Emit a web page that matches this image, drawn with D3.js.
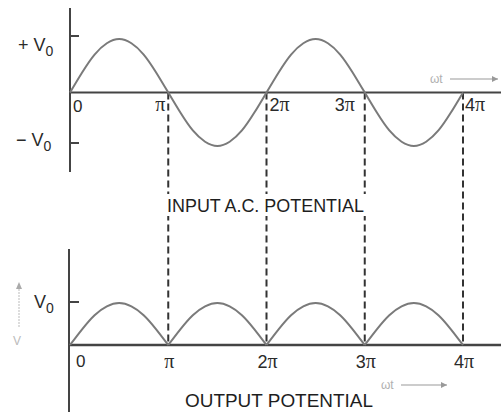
<!DOCTYPE html>
<html>
<head>
<meta charset="utf-8">
<script src="https://d3js.org/d3.v7.min.js"></script>
<style>
    body { margin: 0; background: #fff; }
    text { font-family: "Liberation Sans", Arial, sans-serif; fill: #2a2a2a; }
    .pi { font-family: "Liberation Serif", "DejaVu Serif", serif; }
</style>
</head>
<body>
<script>

    // phase in units of pi, read every pi/8 from the picture
    var phase = [0, 0.125, 0.25, 0.375, 0.5, 0.625, 0.75, 0.875,
        1, 1.125, 1.25, 1.375, 1.5, 1.625, 1.75, 1.875,
        2, 2.125, 2.25, 2.375, 2.5, 2.625, 2.75, 2.875,
        3, 3.125, 3.25, 3.375, 3.5, 3.625, 3.75, 3.875, 4];

    // input a.c. potential (in V0)
    var inputV = [0, 0.38, 0.71, 0.92, 1, 0.92, 0.71, 0.38,
        0, -0.38, -0.71, -0.92, -1, -0.92, -0.71, -0.38,
        0, 0.38, 0.71, 0.92, 1, 0.92, 0.71, 0.38,
        0, -0.38, -0.71, -0.92, -1, -0.92, -0.71, -0.38, 0];

    // output (rectified) potential (in V0)
    var outputV = [0, 0.38, 0.71, 0.92, 1, 0.92, 0.71, 0.38,
        0, 0.38, 0.71, 0.92, 1, 0.92, 0.71, 0.38,
        0, 0.38, 0.71, 0.92, 1, 0.92, 0.71, 0.38,
        0, 0.38, 0.71, 0.92, 1, 0.92, 0.71, 0.38, 0];

    var piTicks = [1, 2, 3, 4];
    var piLabels = ["", "2", "3", "4"];

    var width = 501, height = 412;

    var svg = d3.select("body").append("svg")
        .attr("width", width)
        .attr("height", height);

    var x = d3.scaleLinear().domain([0, 4]).range([70, 463]);
    var yTop = d3.scaleLinear().domain([-1, 1]).range([146, 39]);
    var yBot = d3.scaleLinear().domain([0, 1]).range([345, 303]);

    var axisColor = "#444", curveColor = "#7a7a7a";

    // ==== dashed drop lines ==== //
    svg.selectAll(".drop")
        .data(piTicks)
        .enter().append("line")
        .attr("class", "drop")
        .attr("x1", function (d) { return x(d); })
        .attr("x2", function (d) { return x(d); })
        .attr("y1", yTop(0))
        .attr("y2", yBot(0))
        .style("stroke", "#333")
        .style("stroke-width", 2)
        .style("stroke-dasharray", "7,4");

    // ==== TOP: input ==== //
    svg.append("line")
        .attr("x1", x(0)).attr("x2", width)
        .attr("y1", yTop(0)).attr("y2", yTop(0))
        .style("stroke", axisColor).style("stroke-width", 2);

    svg.append("line")
        .attr("x1", x(0)).attr("x2", x(0))
        .attr("y1", 8).attr("y2", 172)
        .style("stroke", axisColor).style("stroke-width", 2);

    svg.selectAll(".tickTop")
        .data([1, -1])
        .enter().append("line")
        .attr("x1", x(0)).attr("x2", x(0) + 9)
        .attr("y1", function (d) { return yTop(d) - 3; })
        .attr("y2", function (d) { return yTop(d) - 3; })
        .style("stroke", axisColor).style("stroke-width", 2);

    var lineTop = d3.line()
        .x(function (d, i) { return x(phase[i]); })
        .y(function (d) { return yTop(d); })
        .curve(d3.curveNatural);

    svg.append("path")
        .datum(inputV)
        .attr("d", lineTop)
        .style("fill", "none")
        .style("stroke", curveColor)
        .style("stroke-width", 2);

    // ==== BOTTOM: output ==== //
    svg.append("line")
        .attr("x1", x(0) - 1).attr("x2", width)
        .attr("y1", yBot(0)).attr("y2", yBot(0))
        .style("stroke", axisColor).style("stroke-width", 2.5);

    svg.append("line")
        .attr("x1", x(0) - 1).attr("x2", x(0) - 1)
        .attr("y1", 249).attr("y2", height)
        .style("stroke", axisColor).style("stroke-width", 2);

    svg.append("line")
        .attr("x1", x(0) - 1).attr("x2", x(0) + 9)
        .attr("y1", yBot(1) - 1).attr("y2", yBot(1) - 1)
        .style("stroke", axisColor).style("stroke-width", 2);

    var lineBot = d3.line()
        .x(function (d) { return x(d[0]); })
        .y(function (d) { return yBot(d[1]); })
        .curve(d3.curveNatural);

    var humps = d3.range(4).map(function (k) {
        return d3.range(8 * k, 8 * k + 9).map(function (i) { return [phase[i], outputV[i]]; });
    });

    svg.selectAll(".hump")
        .data(humps)
        .enter().append("path")
        .attr("class", "hump")
        .attr("d", lineBot)
        .style("fill", "none")
        .style("stroke", curveColor)
        .style("stroke-width", 2);

    // ==== labels ==== //
    function vLabel(tx, ty, prefix) {
        var t = svg.append("text").attr("x", tx).attr("y", ty).style("font-size", "18px");
        t.append("tspan").text(prefix + "V");
        t.append("tspan").attr("dy", 5).style("font-size", "14px").text("0");
    }
    vLabel(18, 51, "+ ");
    vLabel(16, 146, "\u2212 ");
    vLabel(34, 308, "");

    // zero labels
    svg.append("text").attr("x", 73).attr("y", 112).style("font-size", "17px").text("0");
    svg.append("text").attr("x", 76).attr("y", 367).style("font-size", "17px").text("0");

    // top pi labels (placed around the dashed lines)
    var topAnchor = ["end", "start", "end", "start"];
    var topShift = [-3, 3, -10, 2];
    var tTop = svg.selectAll(".piTop")
        .data(piTicks)
        .enter().append("text")
        .attr("x", function (d, i) { return x(d) + topShift[i]; })
        .attr("y", 111)
        .style("font-size", "18px")
        .style("text-anchor", function (d, i) { return topAnchor[i]; });
    tTop.append("tspan").text(function (d, i) { return piLabels[i]; });
    tTop.append("tspan").attr("class", "pi").style("font-size", "20px").text("\u03c0");

    var tBot = svg.selectAll(".piBot")
        .data(piTicks)
        .enter().append("text")
        .attr("x", function (d) { return x(d) + 1; })
        .attr("y", 368)
        .style("font-size", "18px")
        .style("text-anchor", "middle");
    tBot.append("tspan").text(function (d, i) { return piLabels[i]; });
    tBot.append("tspan").attr("class", "pi").style("font-size", "20px").text("\u03c0");

    // titles
    svg.append("rect")
        .attr("x", 162).attr("y", 194).attr("width", 206).attr("height", 22)
        .style("fill", "#fff");
    svg.append("text")
        .attr("x", 167).attr("y", 212)
        .attr("textLength", 197).attr("lengthAdjust", "spacingAndGlyphs")
        .style("font-size", "18px")
        .style("fill", "#1e1e1e")
        .text("INPUT A.C. POTENTIAL");

    svg.append("text")
        .attr("x", 185).attr("y", 407)
        .attr("textLength", 188).attr("lengthAdjust", "spacingAndGlyphs")
        .style("font-size", "18px")
        .style("fill", "#1e1e1e")
        .text("OUTPUT POTENTIAL");

    // faint omega-t arrows
    function omega(tx, ty, len) {
        svg.append("text").attr("x", tx).attr("y", ty)
            .style("font-size", "12px").style("fill", "#b0b0b0").text("\u03c9t");
        svg.append("line")
            .attr("x1", tx + 20).attr("x2", tx + 20 + len)
            .attr("y1", ty - 4).attr("y2", ty - 4)
            .style("stroke", "#999").style("stroke-width", 1);
        svg.append("path")
            .attr("d", "M" + (tx + 20 + len) + "," + (ty - 4) + "l-6,-3v6z")
            .style("fill", "#999");
    }
    omega(430, 83, 48);
    omega(381, 389, 46);

    // faint vertical arrow with V
    svg.append("line")
        .attr("x1", 19).attr("x2", 19).attr("y1", 286).attr("y2", 328)
        .style("stroke", "#bbb").style("stroke-width", 1).style("stroke-dasharray", "2,1");
    svg.append("path").attr("d", "M19,282l-3,7h6z").style("fill", "#aaa");
    svg.append("text").attr("x", 13).attr("y", 345)
        .style("font-size", "12px").style("fill", "#bbb").text("V");

</script>
</body>
</html>
